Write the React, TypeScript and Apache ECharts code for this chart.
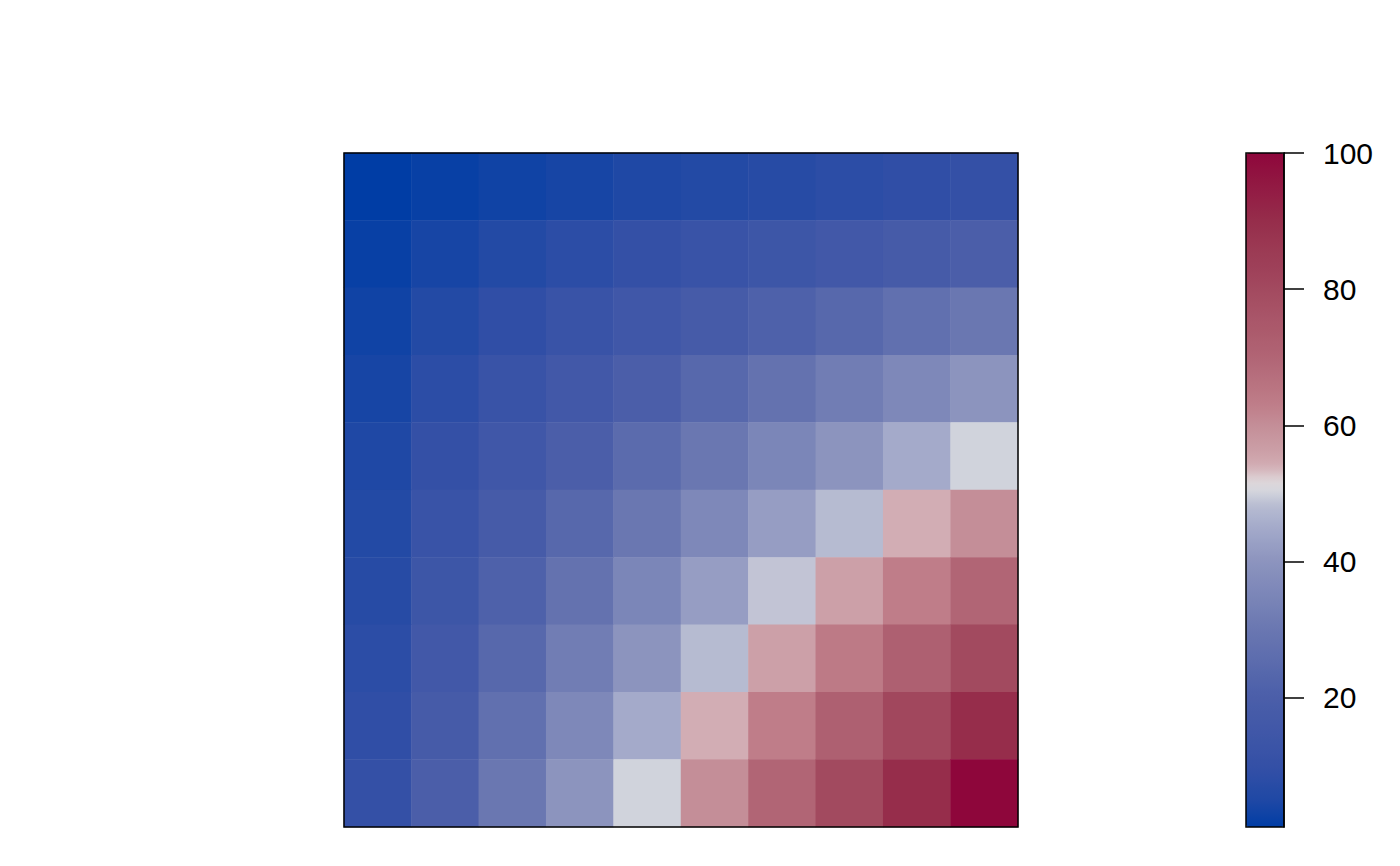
import React, { useEffect, useRef } from "react";
import * as echarts from "echarts";

// Matrix values, rows listed from top to bottom, columns left to right
const row1 = [1, 2, 3, 4, 5, 6, 7, 8, 9, 10];
const row2 = [2, 4, 6, 8, 10, 12, 14, 16, 18, 20];
const row3 = [3, 6, 9, 12, 15, 18, 21, 24, 27, 30];
const row4 = [4, 8, 12, 16, 20, 24, 28, 32, 36, 40];
const row5 = [5, 10, 15, 20, 25, 30, 35, 40, 45, 50];
const row6 = [6, 12, 18, 24, 30, 36, 42, 48, 54, 60];
const row7 = [7, 14, 21, 28, 35, 42, 49, 56, 63, 70];
const row8 = [8, 16, 24, 32, 40, 48, 56, 64, 72, 80];
const row9 = [9, 18, 27, 36, 45, 54, 63, 72, 81, 90];
const row10 = [10, 20, 30, 40, 50, 60, 70, 80, 90, 100];
const rows = [row1, row2, row3, row4, row5, row6, row7, row8, row9, row10];

const xCategories = ["1", "2", "3", "4", "5", "6", "7", "8", "9", "10"];
const yCategories = ["10", "9", "8", "7", "6", "5", "4", "3", "2", "1"]; // bottom to top

const colorbarTicks = [20, 40, 60, 80, 100];
const valueMin = 1;
const valueMax = 100;

// Palette anchor colours (value -> colour)
const stopValues = [1, 5, 10, 20, 30, 40, 45, 48, 49, 50, 51.5, 54, 56, 60, 63, 70, 80, 90, 100];
const stopColors = [
  "#003DA5", "#1F48A5", "#3450A6", "#4B5EA9", "#6A77B1", "#8C94BE", "#A4AACA",
  "#B6BBD1", "#C2C4D5", "#D0D3DC", "#E0DCDE", "#D2ADB4", "#CCA0A8", "#C48E98",
  "#BF7D89", "#B16575", "#A24A5F", "#962D4B", "#8E063B",
];

function hexToRgb(h: string) {
  return [1, 3, 5].map((i) => parseInt(h.slice(i, i + 2), 16));
}
function rgbToHex(c: number[]) {
  return "#" + c.map((v) => Math.round(v).toString(16).padStart(2, "0")).join("");
}
function colorAt(v: number) {
  for (let i = 0; i < stopValues.length - 1; i++) {
    if (v <= stopValues[i + 1]) {
      const t = (v - stopValues[i]) / (stopValues[i + 1] - stopValues[i]);
      const a = hexToRgb(stopColors[i]);
      const b = hexToRgb(stopColors[i + 1]);
      return rgbToHex(a.map((x, k) => x + (b[k] - x) * t));
    }
  }
  return stopColors[stopColors.length - 1];
}

export default function App() {
  const ref = useRef<HTMLDivElement>(null);
  useEffect(() => {
    if (!ref.current) return;
    const chart = echarts.init(ref.current, null, { renderer: "svg" });

    const data: number[][] = [];
    rows.forEach((row, r) => {
      row.forEach((v, c) => {
        data.push([c, 9 - r, v]);
      });
    });

    const palette: string[] = [];
    for (let v = valueMin; v <= valueMax; v++) palette.push(colorAt(v));

    const font = "'Liberation Sans', Helvetica, Arial, sans-serif";

    chart.setOption({
      animation: false,
      backgroundColor: "#ffffff",
      grid: [
        { left: 344, top: 153, width: 674, height: 674, show: false },
        { left: 1246, top: 153, width: 38, height: 674, show: false },
      ],
      xAxis: [
        { type: "category", data: xCategories, gridIndex: 0, show: false },
        { type: "value", gridIndex: 1, min: 0, max: 1, show: false },
      ],
      yAxis: [
        { type: "category", data: yCategories, gridIndex: 0, show: false },
        {
          type: "value",
          gridIndex: 1,
          min: valueMin,
          max: valueMax,
          position: "right",
          z: 10,
          splitLine: { show: false },
          axisLine: { show: true, onZero: false, lineStyle: { color: "#000", width: 1.5 } },
          axisTick: {
            show: true,
            inside: false,
            length: 20,
            customValues: colorbarTicks,
            lineStyle: { color: "#000", width: 1.5 },
          },
          axisLabel: {
            show: true,
            customValues: colorbarTicks,
            margin: 39,
            color: "#000",
            fontSize: 30,
            fontFamily: font,
          },
        },
      ],
      visualMap: {
        type: "continuous",
        min: valueMin,
        max: valueMax,
        seriesIndex: 0,
        calculable: false,
        orient: "vertical",
        left: 1246,
        top: 153,
        padding: 0,
        itemWidth: 38,
        itemHeight: 674,
        text: null,
        z: 1,
        inRange: { color: palette },
      },
      series: [
        {
          type: "heatmap",
          xAxisIndex: 0,
          yAxisIndex: 0,
          data,
          itemStyle: { borderWidth: 0 },
          emphasis: { disabled: true },
        },
      ],
      graphic: [
        {
          type: "rect",
          z: 100,
          shape: { x: 344, y: 153, width: 674, height: 674 },
          style: { fill: "none", stroke: "#000", lineWidth: 1.5 },
        },
        {
          type: "rect",
          z: 100,
          shape: { x: 1246, y: 153, width: 38, height: 674 },
          style: { fill: "none", stroke: "#000", lineWidth: 1.5 },
        },
      ],
    });
    return () => chart.dispose();
  }, []);
  return <div ref={ref} style={{ width: 1400, height: 866, position: "absolute", left: 0, top: 0 }} />;
}
